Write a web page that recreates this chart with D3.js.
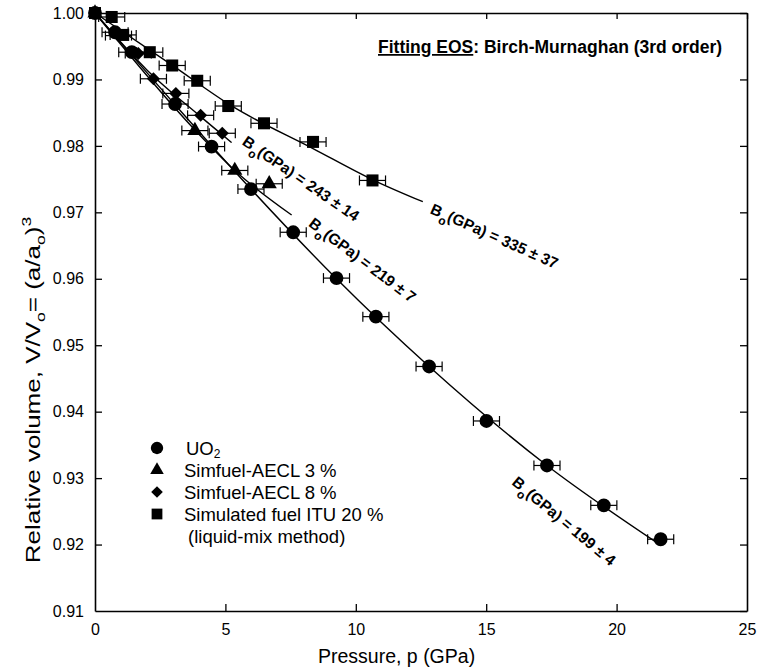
<!DOCTYPE html>
<html><head><meta charset="utf-8">
<script src="https://cdn.jsdelivr.net/npm/d3@7"></script>
<style>
body{margin:0;background:#fff}
text{font-family:"Liberation Sans",Arial,Helvetica,sans-serif;fill:#000}
</style>
</head><body>
<svg id="c" width="758" height="671"></svg>
<script>
// ---- data ----
const xTicks = [0, 5, 10, 15, 20, 25];
const yTicks = [0.91, 0.92, 0.93, 0.94, 0.95, 0.96, 0.97, 0.98, 0.99, 1.00];

const uo2P = [0, 0.77, 1.41, 3.07, 4.47, 5.98, 7.60, 9.26, 10.77, 12.81, 15.01, 17.33, 19.51, 21.69];
const uo2V = [1.0000, 0.9971, 0.9941, 0.9863, 0.9799, 0.9735, 0.9670, 0.9601, 0.9543, 0.9468, 0.9386, 0.9319, 0.9259, 0.9208];

const sf3P = [0, 3.83, 5.36, 6.68];
const sf3V = [1.0000, 0.9823, 0.9763, 0.9743];

const sf8P = [0, 0.90, 1.66, 2.24, 3.10, 4.05, 4.88];
const sf8V = [1.0000, 0.9966, 0.9939, 0.9901, 0.9879, 0.9846, 0.9819];

const ituP = [0, 0.64, 1.08, 2.10, 2.96, 3.92, 5.11, 6.48, 8.36, 10.64];
const ituV = [1.0000, 0.9994, 0.9967, 0.9941, 0.9921, 0.9898, 0.9860, 0.9834, 0.9806, 0.9748];

const pErr = 0.5; // horizontal error bar half-width (GPa)

// fitted Birch-Murnaghan curves
const fitUo2P = [0, 3.07, 5.98, 9.26, 12.81, 17.33, 21.5];
const fitUo2V = [1.0, 0.9862, 0.9735, 0.9600, 0.9468, 0.9319, 0.9204];
const fit3P = [0, 3.83, 5.36, 7.54];
const fit3V = [1.0, 0.9824, 0.9763, 0.9696];
const fit8P = [0, 2.0, 4.05, 5.24];
const fit8V = [1.0, 0.9914, 0.9844, 0.9805];
const fitItuP = [0, 2.94, 5.29, 8.36, 10.65, 12.57];
const fitItuV = [1.0, 0.9922, 0.9859, 0.9796, 0.9749, 0.9716];

const legendLabels = ["UO", "Simfuel-AECL 3 %", "Simfuel-AECL 8 %", "Simulated fuel ITU 20 %"];
const bLabels = ["243 ± 14", "219 ± 7", "335 ± 37", "199 ± 4"];

// ---- drawing ----
const svg = d3.select("#c");
const x = d3.scaleLinear().domain([0, 25]).range([95, 747]);
const y = d3.scaleLinear().domain([0.91, 1.00]).range([611, 13]);

const zip = (a, b) => a.map((v, i) => [v, b[i]]);

// axes
const gB = svg.append("g").attr("transform", `translate(0,${y(0.91)})`)
  .call(d3.axisBottom(x).tickValues(xTicks).tickSizeInner(-7).tickSizeOuter(0).tickPadding(13).tickFormat(d3.format("d")));
const gT = svg.append("g").attr("transform", `translate(0,${y(1.0)})`)
  .call(d3.axisTop(x).tickValues(xTicks).tickSizeInner(-6).tickSizeOuter(0).tickFormat(""));
const gL = svg.append("g").attr("transform", `translate(${x(0)},0)`)
  .call(d3.axisLeft(y).tickValues(yTicks).tickSizeInner(-7).tickSizeOuter(0).tickPadding(11).tickFormat(d3.format(".2f")));
const gR = svg.append("g").attr("transform", `translate(${x(25)},0)`)
  .call(d3.axisRight(y).tickValues(yTicks).tickSizeInner(-7).tickSizeOuter(0).tickFormat(""));
[gB, gT, gL, gR].forEach(g => {
  g.selectAll(".domain").attr("stroke", "#000").attr("stroke-width", 1.6);
  g.selectAll(".tick line").attr("stroke", "#000").attr("stroke-width", 1.3);
  g.selectAll(".tick text").attr("font-size", 16).attr("font-family", "Liberation Sans, Arial, sans-serif").attr("fill", "#000");
});
gB.selectAll(".tick").filter(d => d === 0 || d === 25).select("line").remove();
gL.selectAll(".tick").filter(d => d === 0.91 || d === 1.0).select("line").remove();

// axis titles
svg.append("text").attr("x", 318).attr("y", 663).attr("font-size", 19.5).text("Pressure, p (GPa)");
const yt = svg.append("text").attr("transform", "translate(40,390) rotate(-90) scale(1.3,1)")
  .attr("text-anchor", "middle").attr("font-size", 20);
yt.append("tspan").text("Relative volume, V/V");
yt.append("tspan").attr("font-size", 13.5).attr("dy", 5).text("o");
yt.append("tspan").attr("dy", -5).text("= (a/a");
yt.append("tspan").attr("font-size", 13.5).attr("dy", 5).text("o");
yt.append("tspan").attr("dy", -5).text(")");
yt.append("tspan").attr("font-size", 13.5).attr("dy", -9).text("3");

// fit lines
const line = d3.line().x(d => x(d[0])).y(d => y(d[1])).curve(d3.curveMonotoneX);
[[fitUo2P, fitUo2V], [fit3P, fit3V], [fit8P, fit8V], [fitItuP, fitItuV]].forEach(([p, v]) => {
  svg.append("path").datum(zip(p, v)).attr("d", line)
    .attr("fill", "none").attr("stroke", "#000").attr("stroke-width", 1.4);
});

// series
const series = [
  {p: uo2P, v: uo2V, sym: d3.symbolCircle, size: 150, rot: 0},
  {p: sf3P, v: sf3V, sym: d3.symbolTriangle, size: 100, rot: 0},
  {p: sf8P, v: sf8V, sym: d3.symbolSquare, size: 85, rot: 45},
  {p: ituP, v: ituV, sym: d3.symbolSquare, size: 145, rot: 0}
];
// error bars
series.forEach(s => {
  const g = svg.append("g").attr("stroke", "#000").attr("stroke-width", 1.2);
  zip(s.p, s.v).forEach(([p, v]) => {
    if (p === 0) return;
    const x0 = x(p - pErr), x1 = x(p + pErr), yy = y(v);
    g.append("line").attr("x1", x0).attr("x2", x1).attr("y1", yy).attr("y2", yy);
    g.append("line").attr("x1", x0).attr("x2", x0).attr("y1", yy - 5).attr("y2", yy + 5);
    g.append("line").attr("x1", x1).attr("x2", x1).attr("y1", yy - 5).attr("y2", yy + 5);
  });
});
series.forEach(s => {
  svg.append("g").selectAll("path").data(zip(s.p, s.v)).join("path")
    .attr("transform", d => `translate(${x(d[0])},${y(d[1])}) rotate(${s.rot})`)
    .attr("d", d3.symbol().type(s.sym).size(s.size)).attr("fill", "#000");
});

// legend
const legY = [448, 470, 492, 514];
series.forEach((s, i) => {
  svg.append("path").attr("transform", `translate(157,${legY[i]}) rotate(${s.rot})`)
    .attr("d", d3.symbol().type(s.sym).size(s.size * 0.8)).attr("fill", "#000");
  const t = svg.append("text").attr("x", i === 0 ? 186 : 184).attr("y", legY[i] + 6.5).attr("font-size", 18.5);
  t.append("tspan").text(legendLabels[i]);
  if (i === 0) t.append("tspan").attr("font-size", 12).attr("dy", 3.5).text("2");
});
svg.append("text").attr("x", 188).attr("y", 536 + 6.5).attr("font-size", 18.5).text("(liquid-mix method)");

// header
const hd = svg.append("text").attr("x", 378).attr("y", 53).attr("font-size", 17.5).attr("font-weight", "bold");
hd.append("tspan").attr("text-decoration", "underline").text("Fitting EOS");
hd.append("tspan").text(": Birch-Murnaghan (3rd order)");

// B0 annotations
const bPos = [[301, 178.5, 34.5], [362.5, 260, 37], [494.5, 236, 24], [564, 521, 39.8]];
bLabels.forEach((lab, i) => {
  const [cx, cy, ang] = bPos[i];
  const t = svg.append("text").attr("transform", `translate(${cx},${cy}) rotate(${ang})`)
    .attr("text-anchor", "middle").attr("font-size", 15.5).attr("font-weight", "bold");
  t.append("tspan").attr("dy", "0.35em").text("B");
  t.append("tspan").attr("font-size", 12).attr("dy", 6).text("o");
  t.append("tspan").attr("dy", -6).text("(GPa) = " + lab);
});
</script>
</body></html>
